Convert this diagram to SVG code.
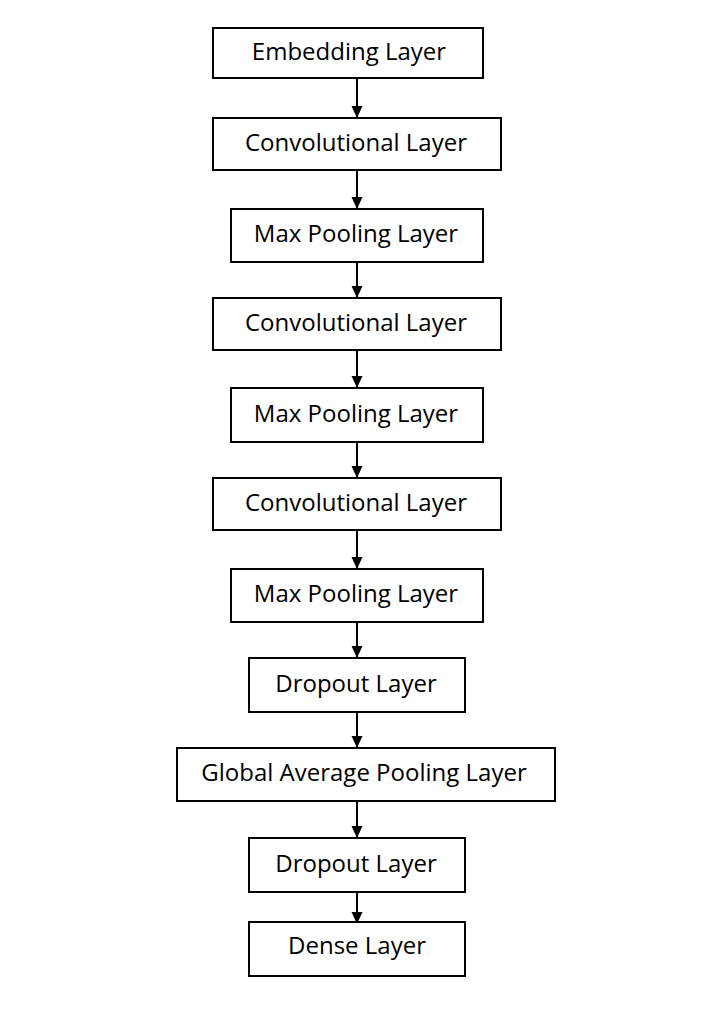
<svg xmlns="http://www.w3.org/2000/svg" width="716" height="1014" viewBox="0 0 716 1014">
<style>
.box{fill:#fff;stroke:#000;stroke-width:2}
.lbl{font-family:"Open Sans","Liberation Sans",sans-serif;font-size:24px;fill:#000;text-anchor:middle}
.edge{stroke:#000;stroke-width:2;fill:none;marker-end:url(#ah)}
</style>
<defs>
<marker id="ah" markerUnits="userSpaceOnUse" markerWidth="12" markerHeight="12" viewBox="0 0 12 12" refX="12" refY="6" orient="auto">
<path d="M0,0.5 L12,6 L0,11.5 z" fill="#000"/>
</marker>
</defs>
<rect width="716" height="1014" fill="#fff"/>
<g id="connectors">
<line class="edge" x1="357" y1="78" x2="357" y2="118"/>
<line class="edge" x1="357" y1="170" x2="357" y2="209"/>
<line class="edge" x1="357" y1="262" x2="357" y2="298"/>
<line class="edge" x1="357" y1="350" x2="357" y2="388"/>
<line class="edge" x1="357" y1="442" x2="357" y2="478"/>
<line class="edge" x1="357" y1="530" x2="357" y2="569"/>
<line class="edge" x1="357" y1="622" x2="357" y2="658"/>
<line class="edge" x1="357" y1="712" x2="357" y2="748"/>
<line class="edge" x1="357" y1="801" x2="357" y2="838"/>
<line class="edge" x1="357" y1="890" x2="357" y2="924"/>
</g>
<g id="n1"><rect class="box" x="213" y="28" width="270" height="50"/><text class="lbl" x="349" y="60">Embedding Layer</text></g>
<g id="n2"><rect class="box" x="213" y="118" width="288" height="52"/><text class="lbl" x="356" y="151">Convolutional Layer</text></g>
<g id="n3"><rect class="box" x="231" y="209" width="252" height="53"/><text class="lbl" x="356" y="242">Max Pooling Layer</text></g>
<g id="n4"><rect class="box" x="213" y="298" width="288" height="52"/><text class="lbl" x="356" y="331">Convolutional Layer</text></g>
<g id="n5"><rect class="box" x="231" y="388" width="252" height="54"/><text class="lbl" x="356" y="422">Max Pooling Layer</text></g>
<g id="n6"><rect class="box" x="213" y="478" width="288" height="52"/><text class="lbl" x="356" y="511">Convolutional Layer</text></g>
<g id="n7"><rect class="box" x="231" y="569" width="252" height="53"/><text class="lbl" x="356" y="602">Max Pooling Layer</text></g>
<g id="n8"><rect class="box" x="249" y="658" width="216" height="54"/><text class="lbl" x="356" y="692">Dropout Layer</text></g>
<g id="n9"><rect class="box" x="177" y="748" width="378" height="53"/><text class="lbl" x="364" y="781">Global Average Pooling Layer</text></g>
<g id="n10"><rect class="box" x="249" y="838" width="216" height="54"/><text class="lbl" x="356" y="872">Dropout Layer</text></g>
<g id="n11"><rect class="box" x="249" y="922" width="216" height="54"/><text class="lbl" x="357" y="954">Dense Layer</text></g>
</svg>
